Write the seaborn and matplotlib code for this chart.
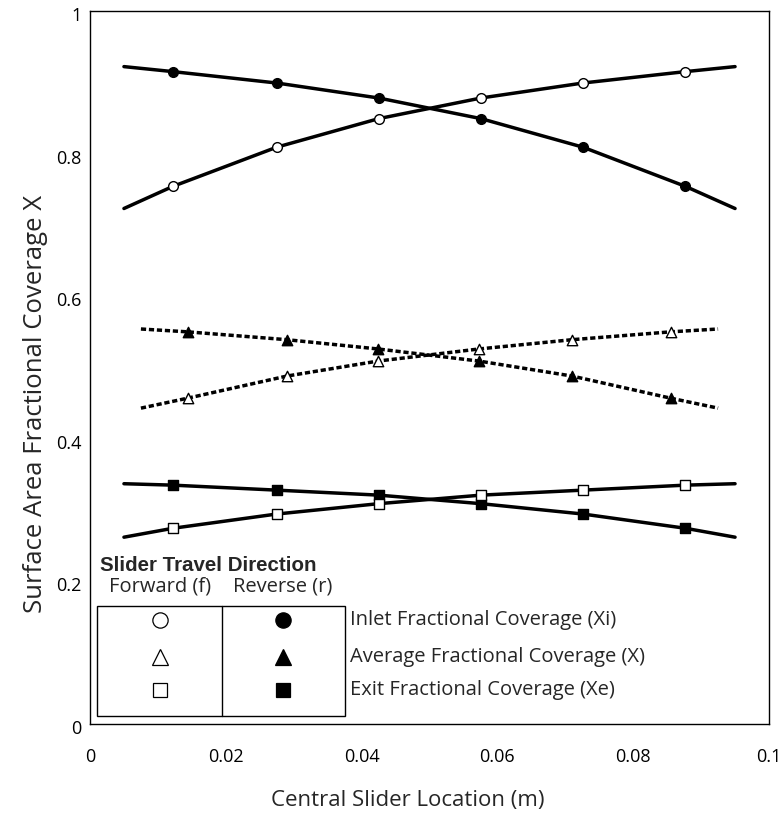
import matplotlib
matplotlib.use("Agg")
import numpy as np
import pandas as pd
import seaborn as sns
import matplotlib.pyplot as plt
import matplotlib.transforms as mtransforms
from matplotlib.patches import Rectangle
from matplotlib.lines import Line2D

# ---------------- data ----------------
# marker locations (m)
x_marks = [0.0122, 0.0275, 0.0425, 0.0576, 0.0726, 0.0877]
x_avg_marks = [0.0144, 0.0290, 0.0424, 0.0573, 0.0710, 0.0855]

# curve end locations (m)
x_solid_ends = [0.005, 0.095]
x_avg_ends = [0.0075, 0.0925]

# inlet fractional coverage Xi
inlet_rev = [0.915, 0.899, 0.878, 0.849, 0.809, 0.754]
inlet_fwd = [0.754, 0.809, 0.849, 0.878, 0.899, 0.915]
inlet_rev_ends = [0.922, 0.723]
inlet_fwd_ends = [0.723, 0.922]

# average fractional coverage X
avg_rev = [0.550, 0.539, 0.526, 0.509, 0.488, 0.457]
avg_fwd = [0.457, 0.488, 0.509, 0.526, 0.539, 0.550]
avg_rev_ends = [0.554, 0.443]
avg_fwd_ends = [0.443, 0.554]

# exit fractional coverage Xe
exit_rev = [0.335, 0.328, 0.321, 0.309, 0.2945, 0.2745]
exit_fwd = [0.2745, 0.2945, 0.309, 0.321, 0.328, 0.335]
exit_rev_ends = [0.337, 0.262]
exit_fwd_ends = [0.262, 0.337]

x_ticks = [0, 0.02, 0.04, 0.06, 0.08, 0.1]
x_tick_labels = ["0", "0.02", "0.04", "0.06", "0.08", "0.1"]
y_ticks = [0, 0.2, 0.4, 0.6, 0.8, 1.0]
y_tick_labels = ["0", "0.2", "0.4", "0.6", "0.8", "1"]

legend_rows = ["Inlet Fractional Coverage (Xi)",
               "Average Fractional Coverage (X)",
               "Exit Fractional Coverage (Xe)"]
legend_markers = ["o", "^", "s"]

# ---------------- style ----------------
sns.set_style("white")
plt.rcParams['font.family'] = ['Open Sans', 'DejaVu Sans']
plt.rcParams['axes.edgecolor'] = 'black'
plt.rcParams['axes.linewidth'] = 1.0

fig = plt.figure(figsize=(7.84, 8.32), dpi=100)
ax = fig.add_axes([90 / 784, 1 - 724 / 832, 679 / 784, 713 / 832])


def full_curve(xm, ym, xe, ye):
    xs = [xe[0]] + list(xm) + [xe[1]]
    ys = [ye[0]] + list(ym) + [ye[1]]
    return pd.DataFrame({"x": xs, "y": ys})


def draw_line(df, ls, lw):
    sns.lineplot(data=df, x="x", y="y", ax=ax, color="black", linewidth=lw,
                 linestyle=ls, sort=False, estimator=None, zorder=2)


def draw_marks(xm, ym, marker, filled, size):
    df = pd.DataFrame({"x": xm, "y": ym})
    sns.scatterplot(data=df, x="x", y="y", ax=ax, marker=marker, s=size ** 2,
                    color="black" if filled else "white", edgecolor="black",
                    linewidth=1.0, zorder=3)


dash = (0, (1.5, 0.8))

# inlet
draw_line(full_curve(x_marks, inlet_rev, x_solid_ends, inlet_rev_ends), "-", 2.5)
draw_line(full_curve(x_marks, inlet_fwd, x_solid_ends, inlet_fwd_ends), "-", 2.5)
# average
draw_line(full_curve(x_avg_marks, avg_rev, x_avg_ends, avg_rev_ends), dash, 2.5)
draw_line(full_curve(x_avg_marks, avg_fwd, x_avg_ends, avg_fwd_ends), dash, 2.5)
# exit
draw_line(full_curve(x_marks, exit_rev, x_solid_ends, exit_rev_ends), "-", 2.5)
draw_line(full_curve(x_marks, exit_fwd, x_solid_ends, exit_fwd_ends), "-", 2.5)

draw_marks(x_marks, inlet_rev, "o", True, 7.0)
draw_marks(x_marks, inlet_fwd, "o", False, 7.0)
draw_marks(x_avg_marks, avg_rev, "^", True, 7.5)
draw_marks(x_avg_marks, avg_fwd, "^", False, 7.5)
draw_marks(x_marks, exit_rev, "s", True, 6.8)
draw_marks(x_marks, exit_fwd, "s", False, 6.8)

# ---------------- axes ----------------
ax.set_xlim(0, 0.1)
ax.set_ylim(0, 1)
ax.set_xticks(x_ticks)
ax.set_xticklabels(x_tick_labels)
ax.set_yticks(y_ticks)
ax.set_yticklabels(y_tick_labels)
ax.tick_params(axis="both", length=0, labelsize=13, colors="black")
ax.tick_params(axis="x", pad=17)
ax.tick_params(axis="y", pad=6)
for sp in ax.spines.values():
    sp.set_visible(True)
    sp.set_color("black")
    sp.set_linewidth(1.0)

offset = mtransforms.ScaledTranslation(0, -3 / 100, fig.dpi_scale_trans)
for lab in ax.get_yticklabels():
    lab.set_transform(lab.get_transform() + offset)

ax.set_xlabel("Central Slider Location (m)", fontsize=16)
ax.set_ylabel("Surface Area Fractional Coverage X", fontsize=18.5)
ax.xaxis.set_label_coords(0.468, -0.093)
ax.yaxis.set_label_coords(-0.062, 0.449)

# ---------------- custom legend ----------------
tA = ax.transAxes
ax.add_patch(Rectangle((0.0103, 0.0112), 0.3653, 0.1543, transform=tA,
                       facecolor="white", edgecolor="black", lw=1.0, zorder=4))
ax.add_line(Line2D([0.1944, 0.1944], [0.0112, 0.1655], transform=tA,
                   color="black", lw=1.0, zorder=5))
ax.text(0.0147, 0.223, "Slider Travel Direction", transform=tA,
        fontsize=14.8, fontweight="bold", family=["Liberation Sans", "DejaVu Sans"],
        ha="left", va="center")
ax.text(0.103, 0.1935, "Forward (f)", transform=tA, fontsize=14.5,
        ha="center", va="center")
ax.text(0.284, 0.1935, "Reverse (r)", transform=tA, fontsize=14.5,
        ha="center", va="center")
row_y = [0.1459, 0.094, 0.0477]
for yy, mk, lab in zip(row_y, legend_markers, legend_rows):
    ms = 11 if mk != "s" else 10
    ax.add_line(Line2D([0.103], [yy], transform=tA, marker=mk, markersize=ms,
                       markerfacecolor="white", markeredgecolor="black",
                       markeredgewidth=0.9, linestyle="none", zorder=6))
    ax.add_line(Line2D([0.284], [yy], transform=tA, marker=mk, markersize=ms,
                       markerfacecolor="black", markeredgecolor="black",
                       markeredgewidth=0.9, linestyle="none", zorder=6))
    ax.text(0.383, yy, lab, transform=tA, fontsize=14.5, ha="left", va="center")

fig.savefig("out.png", dpi=100)
